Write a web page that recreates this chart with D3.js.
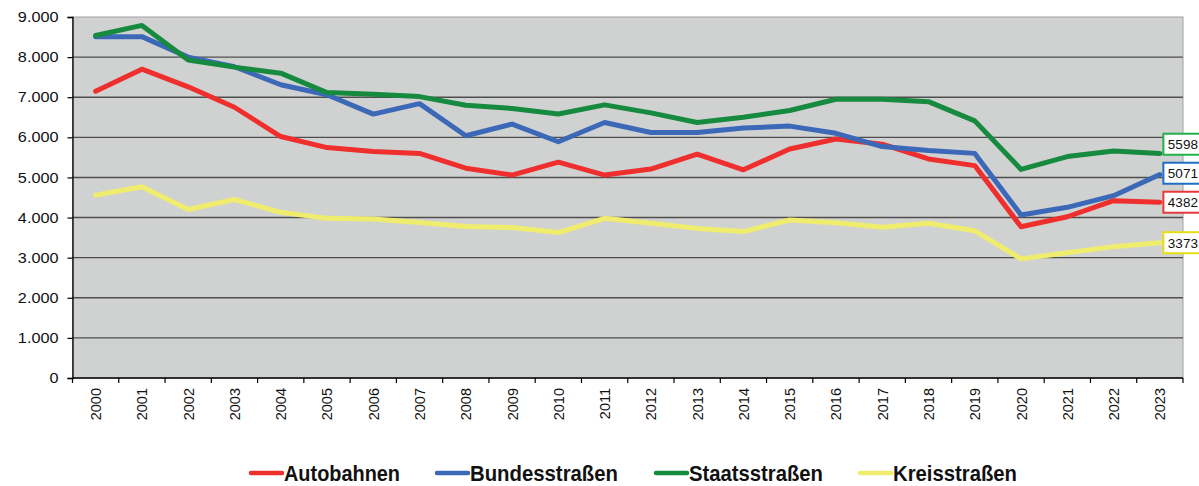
<!DOCTYPE html>
<html>
<head>
<meta charset="utf-8">
<script src="https://cdn.jsdelivr.net/npm/d3@7"></script>
<style>
  html, body { margin: 0; padding: 0; background: #fff; }
  svg { display: block; }
  text { font-family: Arial, "Liberation Sans", sans-serif; }
</style>
</head>
<body>
<svg id="chart" width="1199" height="486"></svg>
<script>
const years = ["2000","2001","2002","2003","2004","2005","2006","2007","2008","2009","2010","2011","2012","2013","2014","2015","2016","2017","2018","2019","2020","2021","2022","2023"];
const autobahnen = [7150, 7700, 7260, 6750, 6020, 5745, 5645, 5600, 5230, 5060, 5380, 5060, 5210, 5580, 5190, 5710, 5960, 5830, 5460, 5295, 3770, 4020, 4420, 4382];
const bundesstrassen = [8510, 8510, 8000, 7760, 7310, 7060, 6580, 6840, 6040, 6330, 5890, 6370, 6120, 6120, 6230, 6280, 6100, 5770, 5670, 5600, 4065, 4255, 4545, 5071];
const staatsstrassen = [8540, 8790, 7930, 7750, 7600, 7115, 7075, 7015, 6800, 6720, 6580, 6810, 6610, 6370, 6500, 6670, 6950, 6950, 6890, 6410, 5200, 5520, 5660, 5598];
const kreisstrassen = [4560, 4770, 4200, 4450, 4130, 3980, 3965, 3875, 3775, 3750, 3625, 3980, 3860, 3730, 3650, 3940, 3870, 3760, 3860, 3670, 2970, 3125, 3275, 3373];
const seriesNames = ["Autobahnen", "Bundesstraßen", "Staatsstraßen", "Kreisstraßen"];
const seriesColors = ["#ee2f2d", "#3c68b8", "#168a3e", "#f0ec6e"];
const labelBorderColors = ["#e8383a", "#1f6fc4", "#22b14c", "#e6de12"];
const yTicks = [0, 1000, 2000, 3000, 4000, 5000, 6000, 7000, 8000, 9000];

const seriesData = [autobahnen, bundesstrassen, staatsstrassen, kreisstrassen];

const svg = d3.select("#chart");
const pL = 72.5, pR = 1183, pT = 17, pB = 378;

const x = d3.scalePoint().domain(years).range([pL, pR]).padding(0.5);
const y = d3.scaleLinear().domain([0, 9000]).range([pB, pT]);
const step = x.step();

// plot background
svg.append("rect")
  .attr("x", pL).attr("y", pT)
  .attr("width", pR - pL).attr("height", pB - pT)
  .attr("fill", "#d0d2d1")
  .attr("stroke", "#a0a0a0").attr("stroke-width", 1);

// gridlines
svg.append("g").selectAll("line")
  .data(yTicks.filter(d => d > 0 && d < 9000))
  .join("line")
  .attr("x1", pL).attr("x2", pR)
  .attr("y1", d => y(d)).attr("y2", d => y(d))
  .attr("stroke", "#4e4e4e").attr("stroke-width", 1.4);

// y axis
const yAxis = d3.axisLeft(y).tickValues(yTicks).tickSize(5).tickPadding(9)
  .tickFormat(d => d3.format(",")(d).replace(/,/g, "."));
const gy = svg.append("g").attr("transform", `translate(${pL},0)`).call(yAxis);
gy.select(".domain").attr("stroke", "#000").attr("stroke-width", 1.3);
gy.selectAll(".tick line").attr("stroke", "#000").attr("stroke-width", 1.2);
gy.selectAll(".tick text")
  .attr("font-size", 14.5).attr("fill", "#111")
  .attr("font-family", "Arial, 'Liberation Sans', sans-serif")
  .each(function() {
    const w = this.getComputedTextLength();
    d3.select(this).attr("textLength", w * 1.12).attr("lengthAdjust", "spacingAndGlyphs");
  });

// x axis: line + ticks at category boundaries
svg.append("line")
  .attr("x1", pL).attr("x2", pR)
  .attr("y1", pB).attr("y2", pB)
  .attr("stroke", "#000").attr("stroke-width", 1.3);
const boundaries = d3.range(years.length + 1).map(i => pL + i * step);
svg.append("g").selectAll("line")
  .data(boundaries)
  .join("line")
  .attr("x1", d => d).attr("x2", d => d)
  .attr("y1", pB).attr("y2", pB + 5)
  .attr("stroke", "#000").attr("stroke-width", 1.2);

svg.append("g").selectAll("text")
  .data(years)
  .join("text")
  .attr("transform", d => `translate(${x(d) + 5.5},388) rotate(-90)`)
  .attr("text-anchor", "end")
  .attr("font-size", 14.5)
  .attr("fill", "#111")
  .text(d => d);

// lines
const line = d3.line().x((d, i) => x(years[i])).y(d => y(d));
svg.append("g").selectAll("path")
  .data(seriesData)
  .join("path")
  .attr("d", d => line(d))
  .attr("fill", "none")
  .attr("stroke", (d, i) => seriesColors[i])
  .attr("stroke-width", 5)
  .attr("stroke-linejoin", "round")
  .attr("stroke-linecap", "round");

// end labels with simple collision avoidance
const last = years[years.length - 1];
let labels = seriesData.map((d, i) => ({ i, v: d[d.length - 1], cy: y(d[d.length - 1]) }));
labels.sort((a, b) => a.cy - b.cy);
const minGap = 29;
for (let k = labels.length - 2; k >= 0; k--) {
  if (labels[k + 1].cy - labels[k].cy < minGap) labels[k].cy = labels[k + 1].cy - minGap;
}
const lg = svg.append("g");
labels.forEach(l => {
  const bx = x(last) + 3.5;
  lg.append("rect")
    .attr("x", bx).attr("y", l.cy - 10.5)
    .attr("width", 44).attr("height", 21)
    .attr("fill", "#fff")
    .attr("stroke", labelBorderColors[l.i]).attr("stroke-width", 2);
  lg.append("text")
    .attr("x", bx + 4.5).attr("y", l.cy + 5)
    .attr("font-size", 13.5).attr("fill", "#111")
    .text(l.v);
});

// legend
const legendItems = [
  { lx: 251, tx: 284, w: 116 },
  { lx: 437, tx: 470, w: 148 },
  { lx: 656, tx: 689, w: 134 },
  { lx: 860, tx: 893, w: 124 }
];
const leg = svg.append("g");
legendItems.forEach((it, i) => {
  leg.append("line")
    .attr("x1", it.lx).attr("x2", it.lx + 31)
    .attr("y1", 473).attr("y2", 473)
    .attr("stroke", seriesColors[i]).attr("stroke-width", 4.5)
    .attr("stroke-linecap", "round");
  leg.append("text")
    .attr("x", it.tx).attr("y", 481)
    .attr("font-size", 22).attr("font-weight", "bold").attr("fill", "#111")
    .attr("textLength", it.w).attr("lengthAdjust", "spacingAndGlyphs")
    .text(seriesNames[i]);
});
</script>
</body>
</html>
